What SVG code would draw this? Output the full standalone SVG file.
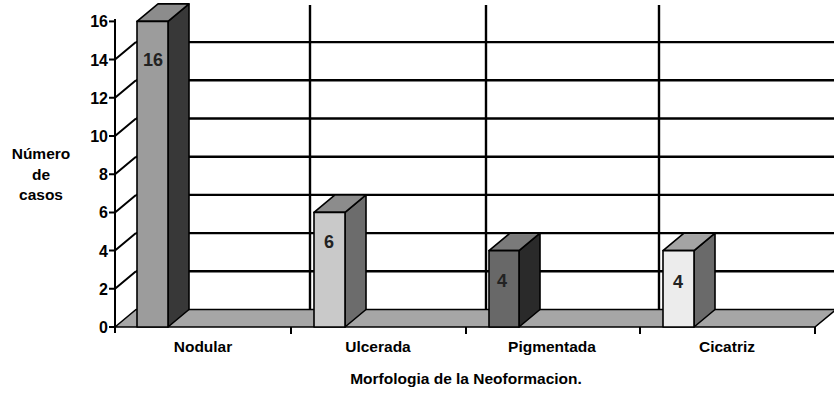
<svg xmlns="http://www.w3.org/2000/svg" width="834" height="393" viewBox="0 0 834 393">
<style>
.grid{stroke:#000;stroke-width:2.4;fill:none}
.ax{stroke:#000;stroke-width:2;fill:none}
.edge{stroke:#000;stroke-width:1.6;stroke-linejoin:round}
.t{font-family:"Liberation Sans",Arial,sans-serif;font-weight:bold;fill:#000}
.tick{font-size:16px;text-anchor:end}
.cat{font-size:15.5px;text-anchor:middle}
.bl{font-size:18px;font-weight:bold;font-family:"Liberation Sans",Arial,sans-serif;text-anchor:middle;fill:#222}
</style>
<rect width="834" height="393" fill="#fff"/>
<g id="backwall">
<line class="grid" x1="136" y1="42.1" x2="834" y2="42.1"/>
<line class="grid" x1="136" y1="80.3" x2="834" y2="80.3"/>
<line class="grid" x1="136" y1="118.5" x2="834" y2="118.5"/>
<line class="grid" x1="136" y1="156.7" x2="834" y2="156.7"/>
<line class="grid" x1="136" y1="194.9" x2="834" y2="194.9"/>
<line class="grid" x1="136" y1="233.1" x2="834" y2="233.1"/>
<line class="grid" x1="136" y1="271.3" x2="834" y2="271.3"/>
<line class="grid" x1="310" y1="5" x2="310" y2="310"/>
<line class="grid" x1="486" y1="5" x2="486" y2="310"/>
<line class="grid" x1="659" y1="5" x2="659" y2="310"/>
</g>
<g id="floor">
<polygon class="edge" points="115,327 815,327 836,309.5 136,309.5" fill="#a6a6a6"/>
</g>
<g id="axis">
<line class="ax" x1="115" y1="19" x2="115" y2="333"/>
<line class="ax" x1="291" y1="327" x2="291" y2="334"/>
<line class="ax" x1="466" y1="327" x2="466" y2="334"/>
<line class="ax" x1="640" y1="327" x2="640" y2="334"/>
<line class="ax" x1="815" y1="327" x2="815" y2="334"/>
<g class="ax">
<path d="M109 21.4H115"/>
<path d="M109 59.6H115L136 42.1"/>
<path d="M109 97.8H115L136 80.3"/>
<path d="M109 136H115L136 118.5"/>
<path d="M109 174.2H115L136 156.7"/>
<path d="M109 212.4H115L136 194.9"/>
<path d="M109 250.6H115L136 233.1"/>
<path d="M109 288.8H115L136 271.3"/>
<path d="M109 327H115"/>
</g>
<text class="t tick" x="108" y="27">16</text>
<text class="t tick" x="108" y="65.5">14</text>
<text class="t tick" x="108" y="103.5">12</text>
<text class="t tick" x="108" y="141.5">10</text>
<text class="t tick" x="108" y="180">8</text>
<text class="t tick" x="108" y="218">6</text>
<text class="t tick" x="108" y="256.5">4</text>
<text class="t tick" x="108" y="294.5">2</text>
<text class="t tick" x="108" y="332.5">0</text>
<text class="t cat" x="41" y="159">Número</text>
<text class="t cat" x="41" y="180">de</text>
<text class="t cat" x="41" y="200">casos</text>
</g>
<g id="bar-nodular">
<polygon class="edge" points="168,21.4 189,3.9 189,309.5 168,327" fill="#383838"/>
<polygon class="edge" points="137,21.4 168,21.4 189,3.9 158,3.9" fill="#8c8c8c"/>
<rect class="edge" x="137" y="21.4" width="31" height="305.6" fill="#9c9c9c"/>
<text class="bl" x="153" y="66">16</text>
</g>
<g id="bar-ulcerada">
<polygon class="edge" points="345,212.4 366,194.9 366,309.5 345,327" fill="#6c6c6c"/>
<polygon class="edge" points="314,212.4 345,212.4 366,194.9 335,194.9" fill="#8c8c8c"/>
<rect class="edge" x="314" y="212.4" width="31" height="114.6" fill="#c9c9c9"/>
<text class="bl" x="329" y="248">6</text>
</g>
<g id="bar-pigmentada">
<polygon class="edge" points="519,250.6 540,233.1 540,309.5 519,327" fill="#2a2a2a"/>
<polygon class="edge" points="489,250.6 519,250.6 540,233.1 510,233.1" fill="#7a7a7a"/>
<rect class="edge" x="489" y="250.6" width="30" height="76.4" fill="#686868"/>
<text class="bl" x="502" y="287">4</text>
</g>
<g id="bar-cicatriz">
<polygon class="edge" points="694,250.6 715,233.1 715,309.5 694,327" fill="#6a6a6a"/>
<polygon class="edge" points="663,250.6 694,250.6 715,233.1 684,233.1" fill="#a4a4a4"/>
<rect class="edge" x="663" y="250.6" width="31" height="76.4" fill="#ececec"/>
<text class="bl" x="678" y="288">4</text>
</g>
<g id="labels">
<text class="t cat" x="203" y="352">Nodular</text>
<text class="t cat" x="378" y="352">Ulcerada</text>
<text class="t cat" x="552" y="352">Pigmentada</text>
<text class="t cat" x="727" y="352">Cicatriz</text>
<text class="t cat" x="466" y="384">Morfologia de la Neoformacion.</text>
</g>
</svg>
